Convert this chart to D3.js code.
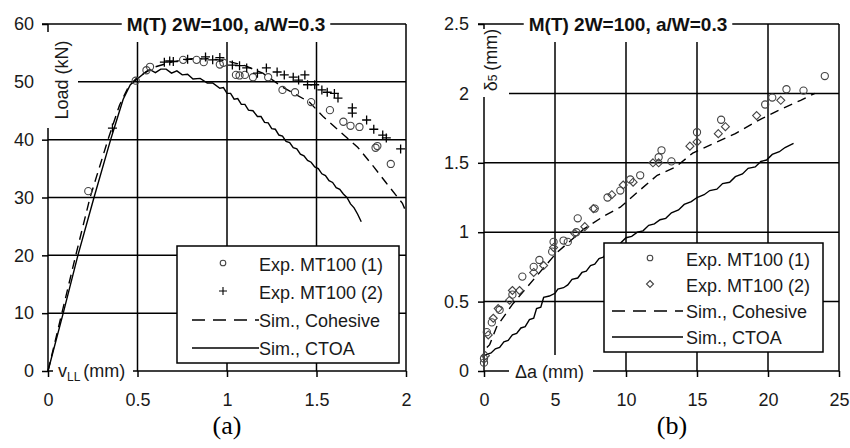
<!DOCTYPE html>
<html><head><meta charset="utf-8">
<script src="https://cdn.jsdelivr.net/npm/d3@7"></script>
<style>body{margin:0;background:#fff}</style>
</head><body>
<script>
// ---------- DATA ----------
// Panel (a): Load (kN) vs v_LL (mm)
const vllTicks = [0, 0.5, 1, 1.5, 2];
const loadTicks = [0, 10, 20, 30, 40, 50, 60];
const loadExp1 = [[0.225,31.1],[0.49,50.2],[0.55,52.0],[0.57,52.6],[0.755,53.8],[0.83,53.8],[0.87,53.4],[0.96,53.0],[0.98,53.3],[1.05,51.2],[1.07,51.1],[1.10,51.2],[1.145,50.8],[1.23,50.8],[1.31,48.6],[1.38,48.2],[1.47,46.5],[1.575,45.1],[1.65,43.1],[1.69,42.4],[1.74,42.2],[1.83,38.6],[1.84,38.9],[1.915,35.8]];
const loadExp2 = [[0.36,42.0],[0.65,53.4],[0.68,53.6],[0.70,53.5],[0.78,53.9],[0.88,54.3],[0.92,53.8],[0.96,54.2],[1.03,52.9],[1.07,52.8],[1.11,52.4],[1.17,51.5],[1.22,52.4],[1.28,51.7],[1.32,51.2],[1.37,50.8],[1.40,50.3],[1.435,51.2],[1.45,49.5],[1.49,49.5],[1.53,48.6],[1.56,48.2],[1.60,48.0],[1.62,47.2],[1.70,45.5],[1.70,44.6],[1.78,43.4],[1.82,41.8],[1.87,40.8],[1.89,40.3],[1.97,38.4]];
const loadCohesive = [[0,0],[0.155,20],[0.235,30],[0.335,40],[0.40,46],[0.45,49.2],[0.5,50.8],[0.6,52.6],[0.7,53.5],[0.8,54.0],[0.9,54.0],[1.0,53.6],[1.1,52.8],[1.2,51.5],[1.31,49.1],[1.46,46.5],[1.54,43.9],[1.62,41.7],[1.73,38.7],[1.82,35.3],[1.89,32.5],[1.98,29.0],[2.0,27.5]];
const loadCTOA = [[0,0],[0.085,10],[0.167,20],[0.257,30],[0.35,40],[0.39,44],[0.42,47],[0.46,49.5],[0.51,50.8],[0.55,51.8],[0.57,52.1],[0.60,51.6],[0.63,52.2],[0.66,52.2],[0.69,51.5],[0.72,51.9],[0.75,51.2],[0.78,51.3],[0.81,50.5],[0.85,50.6],[0.89,49.8],[0.92,49.8],[0.96,48.9],[0.98,49.0],[1.00,48.0],[1.02,48.0],[1.04,47.0],[1.06,47.1],[1.08,46.1],[1.10,46.1],[1.12,45.1],[1.145,45.0],[1.17,44.0],[1.19,44.0],[1.21,43.0],[1.23,42.9],[1.25,41.9],[1.27,41.8],[1.29,40.8],[1.31,40.6],[1.33,39.7],[1.35,39.5],[1.37,38.6],[1.39,38.4],[1.41,37.5],[1.43,37.2],[1.45,36.4],[1.47,36.1],[1.49,35.3],[1.51,35.0],[1.53,34.1],[1.55,33.8],[1.57,32.9],[1.59,32.6],[1.61,31.7],[1.63,31.4],[1.65,30.6],[1.67,30.0],[1.69,28.9],[1.71,28.2],[1.73,27.1],[1.75,25.8]];

// Panel (b): delta5 (mm) vs crack extension (mm)
const daTicks = [0, 5, 10, 15, 20, 25];
const d5Ticks = [0, 0.5, 1, 1.5, 2, 2.5];
const d5Exp1 = [[0,0.06],[0,0.09],[0.2,0.28],[0.55,0.35],[1.1,0.44],[2.0,0.55],[2.7,0.68],[3.5,0.75],[3.9,0.80],[4.8,0.86],[4.9,0.93],[5.6,0.94],[5.9,0.93],[6.5,1.0],[6.6,1.10],[7.8,1.17],[8.7,1.25],[9.6,1.30],[10.3,1.38],[11.0,1.41],[12.3,1.54],[12.5,1.59],[13.2,1.51],[15.0,1.72],[16.7,1.81],[19.8,1.92],[20.3,1.97],[21.3,2.03],[22.5,2.02],[24.0,2.125]];
const d5Exp2 = [[0.1,0.11],[0.3,0.26],[0.65,0.38],[1.0,0.45],[1.8,0.51],[2.0,0.58],[2.5,0.58],[3.5,0.71],[4.2,0.76],[4.9,0.89],[6.4,0.99],[7.1,1.04],[7.7,1.17],[9.0,1.27],[9.8,1.34],[10.5,1.36],[11.9,1.50],[12.3,1.50],[14.5,1.62],[15.0,1.65],[16.5,1.71],[17.0,1.76],[19.2,1.84],[20.9,1.95]];
const d5Cohesive = [[0.2,0.17],[0.4,0.19],[0.9,0.32],[2.0,0.48],[3.5,0.66],[5.1,0.85],[7.0,1.02],[8.5,1.12],[9.6,1.18],[10.6,1.27],[12.2,1.41],[13.5,1.47],[14.7,1.57],[16.4,1.65],[17.7,1.71],[19.4,1.81],[20.8,1.88],[22.3,1.95],[23.3,2.00]];
const d5CTOA = [[0.07,0.115],[0.5,0.13],[0.8,0.16],[1.1,0.17],[1.4,0.21],[1.7,0.22],[2.0,0.26],[2.3,0.27],[2.6,0.31],[2.9,0.32],[3.2,0.37],[3.5,0.38],[3.7,0.45],[4.0,0.46],[4.2,0.53],[4.6,0.54],[5.0,0.56],[5.2,0.59],[5.6,0.60],[5.9,0.62],[6.2,0.66],[6.6,0.67],[6.9,0.71],[7.2,0.72],[7.5,0.76],[7.8,0.77],[8.1,0.81],[8.4,0.82],[8.7,0.86],[9.0,0.87],[9.3,0.91],[9.6,0.92],[10.0,0.96],[10.4,0.97],[10.8,1.00],[11.2,1.01],[11.6,1.05],[12.0,1.06],[12.4,1.09],[12.8,1.10],[13.2,1.14],[13.7,1.16],[14.1,1.20],[14.6,1.22],[15.0,1.25],[15.5,1.27],[15.9,1.30],[16.4,1.31],[16.8,1.35],[17.3,1.36],[17.7,1.40],[18.2,1.42],[18.6,1.46],[19.1,1.47],[19.5,1.51],[19.9,1.52],[20.3,1.56],[20.8,1.58],[21.2,1.61],[21.8,1.64]];

const titleText = "M(T) 2W=100, a/W=0.3";
const legendA = ["Exp. MT100 (1)", "Exp. MT100 (2)", "Sim., Cohesive", "Sim., CTOA"];
const legendB = ["Exp. MT100 (1)", "Exp. MT100 (2)", "Sim., Cohesive", "Sim., CTOA"];

// ---------- DRAW ----------
const svg = d3.select("body").append("svg").attr("width", 850).attr("height", 448)
  .style("font-family", "'Liberation Sans', Arial, sans-serif");

const symPaths = {
  plus: "M-4.5,0H4.5M0,-4.5V4.5",
  diamond: "M0,-4L4,0L0,4L-4,0Z"
};

function drawPanel(p) {
  const g = svg.append("g");
  const gridG = g.append("g"), frameG = g.append("g"), axisG = g.append("g"),
        dataG = g.append("g"), maskG = g.append("g"), legG = g.append("g"), textG = g.append("g");
  const [x0, x1] = p.x.range();
  const [yb, yt] = p.y.range();

  // title
  const title = textG.append("text").attr("x", p.titleX).attr("y", yt + 7)
    .attr("text-anchor", "middle").attr("font-weight", "bold").attr("font-size", 19)
    .attr("fill", "#111").text(titleText);
  const tb = title.node().getBBox();
  const titleBottom = 42;

  const L = (sel) => sel.attr("stroke", "#000").attr("stroke-width", 1.5);

  // grid
  p.xTicks.slice(1, -1).forEach(v => {
    const px = p.x(v);
    const top = px < tb.x + tb.width + 8 ? titleBottom : yt;
    L(gridG.append("line").attr("x1", px).attr("x2", px).attr("y1", top).attr("y2", yb));
  });
  p.yTicks.slice(1, -1).forEach(v => {
    const py = p.y(v);
    L(gridG.append("line").attr("x1", x0).attr("x2", x1).attr("y1", py).attr("y2", py));
  });

  // frame
  L(frameG.append("line").attr("x1", x0 - 6).attr("x2", tb.x - 5).attr("y1", yt).attr("y2", yt));
  L(frameG.append("line").attr("x1", tb.x + tb.width + 5).attr("x2", x1).attr("y1", yt).attr("y2", yt));
  L(frameG.append("line").attr("x1", x1).attr("x2", x1).attr("y1", yt).attr("y2", yb));
  L(frameG.append("line").attr("x1", x0).attr("x2", x1).attr("y1", yb).attr("y2", yb));
  L(frameG.append("line").attr("x1", x0).attr("x2", x0).attr("y1", yt).attr("y2", yb));

  // axes
  const ay = axisG.append("g").attr("transform", `translate(${x0},0)`)
    .call(d3.axisLeft(p.y).tickValues(p.yTicks).tickSize(6).tickPadding(p.yPad).tickFormat(d => String(d)));
  const ax = axisG.append("g").attr("transform", `translate(0,${yb})`)
    .call(d3.axisBottom(p.x).tickValues(p.xTicks).tickSize(6).tickPadding(16).tickFormat(d => String(d)));
  [ay, ax].forEach(a => {
    a.select(".domain").remove();
    a.attr("font-size", 18).attr("font-family", null);
    a.selectAll("line").attr("stroke", "#000").attr("stroke-width", 1.5);
    a.selectAll("text").attr("fill", "#1a1a1a");
  });

  // data
  const line = d3.line().x(d => p.x(d[0])).y(d => p.y(d[1]));
  dataG.append("path").datum(p.cohesive).attr("d", line).attr("fill", "none")
    .attr("stroke", "#000").attr("stroke-width", 1.4).attr("stroke-dasharray", "9,6");
  dataG.append("path").datum(p.ctoa).attr("d", line).attr("fill", "none")
    .attr("stroke", "#000").attr("stroke-width", 1.4);
  dataG.selectAll("circle.e1").data(p.exp1).join("circle").attr("class", "e1")
    .attr("cx", d => p.x(d[0])).attr("cy", d => p.y(d[1])).attr("r", 3.6)
    .attr("fill", "none").attr("stroke", "#444").attr("stroke-width", 1.1);
  dataG.selectAll("path.e2").data(p.exp2).join("path").attr("class", "e2")
    .attr("transform", d => `translate(${p.x(d[0])},${p.y(d[1])})`)
    .attr("d", symPaths[p.sym2]).attr("fill", "none")
    .attr("stroke", p.sym2 === "plus" ? "#000" : "#444").attr("stroke-width", p.sym2 === "plus" ? 1.3 : 1.1);

  // masks behind axis labels
  p.masks.forEach(m => maskG.append("rect").attr("x", m[0]).attr("y", m[1])
    .attr("width", m[2]).attr("height", m[3]).attr("fill", "#fff"));

  // axis labels
  p.drawLabels(textG);

  // legend
  const lg = p.legend;
  L(legG.append("rect").attr("x", lg.x).attr("y", lg.y).attr("width", lg.w).attr("height", lg.h).attr("fill", "#fff"));
  lg.rows.forEach((ry, i) => {
    if (i === 0) {
      legG.append("circle").attr("cx", lg.sx).attr("cy", ry - 1).attr("r", 2.8)
        .attr("fill", "none").attr("stroke", "#444").attr("stroke-width", 1.1);
    } else if (i === 1) {
      legG.append("path").attr("transform", `translate(${lg.sx},${ry - 1})`)
        .attr("d", p.sym2 === "plus" ? "M-4,0H4M0,-4V4" : "M0,-3.5L3.5,0L0,3.5L-3.5,0Z")
        .attr("fill", "none").attr("stroke", p.sym2 === "plus" ? "#000" : "#444").attr("stroke-width", 1.1);
    } else {
      legG.append("line").attr("x1", lg.lx0).attr("x2", lg.lx1).attr("y1", ry).attr("y2", ry)
        .attr("stroke", "#000").attr("stroke-width", 1.4)
        .attr("stroke-dasharray", i === 2 ? "13,8" : null);
    }
    legG.append("text").attr("x", lg.tx).attr("y", ry + 6.5).attr("font-size", 18)
      .attr("fill", "#1a1a1a").text(p.legendLabels[i]);
  });

  // panel letter
  textG.append("text").attr("x", p.letterX).attr("y", 434).attr("text-anchor", "middle")
    .attr("font-family", "'Liberation Serif', 'Times New Roman', serif").attr("font-size", 26)
    .attr("fill", "#000").text(p.letter);
}

drawPanel({
  x: d3.scaleLinear([0, 2], [48, 406]),
  y: d3.scaleLinear([0, 60], [371, 24]),
  xTicks: vllTicks, yTicks: loadTicks, yPad: 8,
  titleX: 226,
  exp1: loadExp1, exp2: loadExp2, cohesive: loadCohesive, ctoa: loadCTOA, sym2: "plus",
  masks: [[40, 32, 38, 96], [53, 358, 80, 30]],
  drawLabels: (t) => {
    t.append("text").attr("transform", "translate(68,80) rotate(-90)").attr("text-anchor", "middle")
      .attr("font-size", 18).attr("fill", "#1a1a1a").text("Load (kN)");
    const xl = t.append("text").attr("x", 58).attr("y", 377).attr("font-size", 18).attr("fill", "#1a1a1a");
    xl.append("tspan").text("v");
    xl.append("tspan").attr("font-size", 12).attr("dy", 4).text("LL");
    xl.append("tspan").attr("dy", -4).attr("dx", 3).text("(mm)");
  },
  legend: { x: 177, y: 246, w: 222, h: 117, sx: 223, lx0: 192, lx1: 259, tx: 259, rows: [264, 292, 320, 348] },
  legendLabels: legendA,
  letter: "(a)", letterX: 227
});

drawPanel({
  x: d3.scaleLinear([0, 25], [484, 839]),
  y: d3.scaleLinear([0, 2.5], [371, 24]),
  xTicks: daTicks, yTicks: d5Ticks, yPad: 9,
  titleX: 628,
  exp1: d5Exp1, exp2: d5Exp2, cohesive: d5Cohesive, ctoa: d5CTOA, sym2: "diamond",
  masks: [[476, 29, 33, 68], [509, 355, 84, 33]],
  drawLabels: (t) => {
    const yl = t.append("text").attr("transform", "translate(497,60) rotate(-90)").attr("text-anchor", "middle")
      .attr("font-size", 18).attr("fill", "#1a1a1a");
    yl.append("tspan").text("δ");
    yl.append("tspan").attr("font-size", 12).text("5");
    yl.append("tspan").attr("dx", 4).text("(mm)");
    t.append("text").attr("x", 515).attr("y", 378).attr("font-size", 18).attr("fill", "#1a1a1a").text("Δa (mm)");
  },
  legend: { x: 604, y: 243, w: 219, h: 109, sx: 650, lx0: 612, lx1: 683, tx: 686, rows: [259, 285, 311, 337] },
  legendLabels: legendB,
  letter: "(b)", letterX: 672
});
</script>
</body></html>
